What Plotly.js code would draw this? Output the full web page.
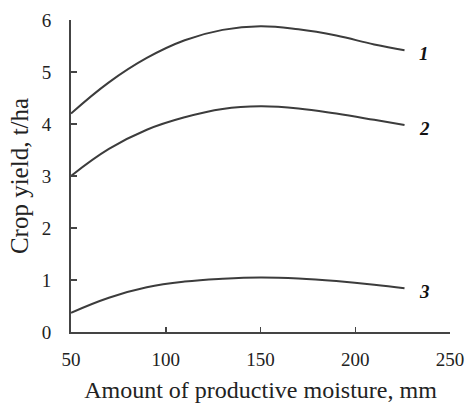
<!DOCTYPE html>
<html>
<head>
<meta charset="utf-8">
<script src="https://cdn.plot.ly/plotly-3.0.1.min.js"></script>
<style>html,body{margin:0;padding:0;background:#fff;}#chart{width:466px;height:405px;}</style>
</head>
<body>
<div id="chart"></div>
<script>
var moisture = [50, 70, 90, 110, 130, 150, 170, 190, 210, 226];
var yield1 = [4.20, 4.80, 5.27, 5.61, 5.81, 5.88, 5.82, 5.70, 5.53, 5.42];
var yield2 = [3.00, 3.52, 3.89, 4.13, 4.29, 4.34, 4.30, 4.20, 4.08, 3.98];
var yield3 = [0.37, 0.66, 0.86, 0.97, 1.025, 1.05, 1.03, 0.98, 0.91, 0.84];
var curveNames = ['1', '2', '3'];
var xTicks = [50, 100, 150, 200, 250];
var yTicks = [0, 1, 2, 3, 4, 5, 6];

var serif = '"Liberation Serif", "Times New Roman", "DejaVu Serif", serif';
var lineStyle = {color: '#3c3c3c', width: 2, shape: 'spline', smoothing: 1.2};
var series = [yield1, yield2, yield3];
var traces = series.map(function (s, i) {
  return {x: moisture, y: s, type: 'scatter', mode: 'lines', name: curveNames[i],
          line: lineStyle, hoverinfo: 'x+y'};
});

var annotations = series.map(function (s, i) {
  return {x: moisture[moisture.length - 1], y: s[s.length - 1], xref: 'x', yref: 'y',
          text: '<b><i>' + curveNames[i] + '</i></b>', showarrow: false,
          xanchor: 'left', xshift: 12, yshift: -3,
          font: {family: serif, size: 19, color: '#111'}};
});

var layout = {
  width: 466, height: 405,
  margin: {l: 71, r: 16, t: 20, b: 73},
  paper_bgcolor: '#ffffff', plot_bgcolor: '#ffffff',
  showlegend: false,
  font: {family: serif, color: '#222'},
  xaxis: {
    range: [50, 250], tickvals: xTicks, ticktext: xTicks.map(String),
    showgrid: false, zeroline: false, showline: true, linecolor: '#444', linewidth: 2,
    ticks: 'inside', ticklen: 5, tickwidth: 1.5, tickcolor: '#444',
    ticklabelstandoff: 9, ticklabeloverflow: 'allow',
    tickfont: {family: serif, size: 19, color: '#222'},
    title: {text: 'Amount of productive moisture, mm', standoff: 12,
            font: {family: serif, size: 24, color: '#222'}}
  },
  yaxis: {
    range: [0, 6], tickvals: yTicks, ticktext: yTicks.map(String),
    showgrid: false, zeroline: false, showline: true, linecolor: '#444', linewidth: 2,
    ticks: 'inside', ticklen: 6, tickwidth: 1.5, tickcolor: '#444',
    ticklabelstandoff: 14,
    tickfont: {family: serif, size: 19, color: '#222'},
    title: {text: 'Crop yield, t/ha', standoff: 6,
            font: {family: serif, size: 25, color: '#222'}}
  },
  annotations: annotations
};

Plotly.newPlot('chart', traces, layout, {displayModeBar: false, staticPlot: true});
</script>
</body>
</html>
